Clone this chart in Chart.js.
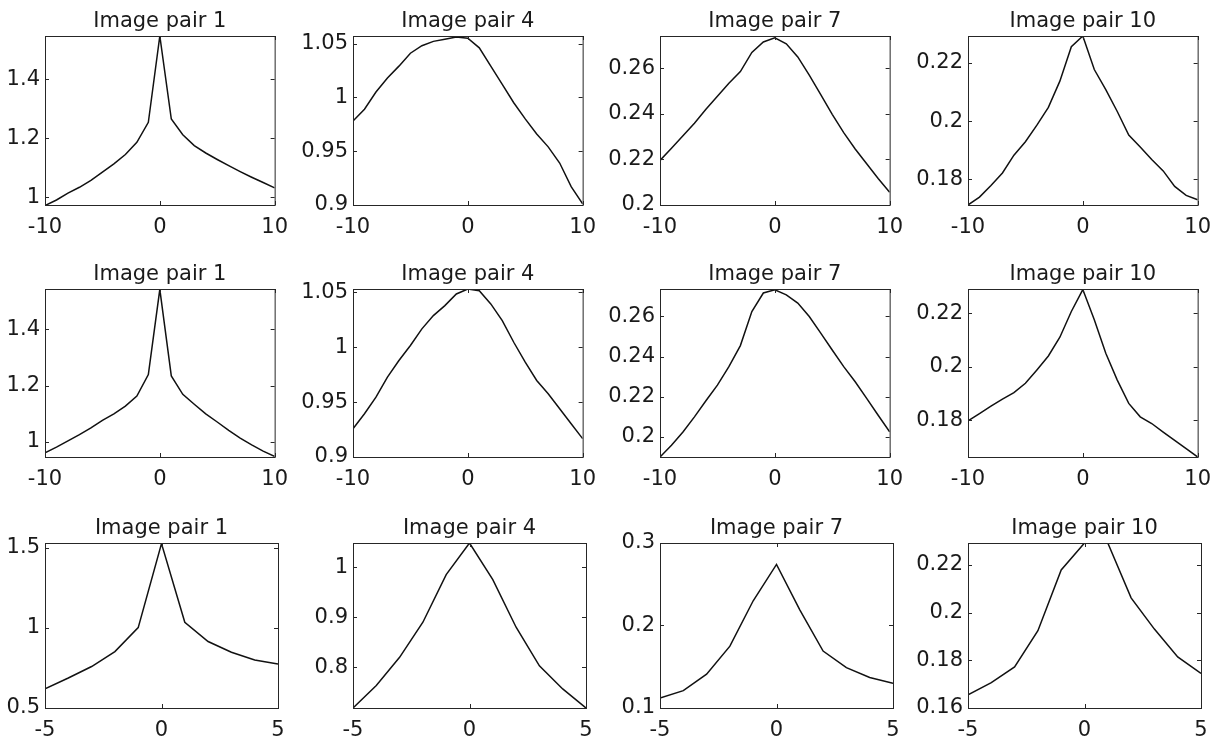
<!DOCTYPE html>
<html>
<head>
<meta charset="utf-8">
<script src="https://cdn.jsdelivr.net/npm/chart.js@4/dist/chart.umd.min.js"></script>
<style>
  html, body { margin: 0; padding: 0; background: #fff; overflow: hidden; }
  body { width: 1221px; height: 745px; position: relative; }
  .panel { position: absolute; }
</style>
</head>
<body>
<script>
// x positions (shift)
const xWide = [-10, -9, -8, -7, -6, -5, -4, -3, -2, -1, 0, 1, 2, 3, 4, 5, 6, 7, 8, 9, 10];
const xNarrow = [-5, -4, -3, -2, -1, 0, 1, 2, 3, 4, 5];
const xTicksWide = [-10, 0, 10];
const xTicksNarrow = [-5, 0, 5];

const titles = ['Image pair 1', 'Image pair 4', 'Image pair 7', 'Image pair 10'];

// row 1
const r1p1 = [0.972, 0.991, 1.014, 1.034, 1.057, 1.085, 1.113, 1.145, 1.186, 1.254, 1.546, 1.265, 1.212, 1.175, 1.150, 1.128, 1.107, 1.087, 1.068, 1.050, 1.032];
const r1p4 = [0.978, 0.989, 1.005, 1.018, 1.029, 1.041, 1.048, 1.052, 1.054, 1.056, 1.055, 1.046, 1.029, 1.012, 0.995, 0.980, 0.966, 0.954, 0.939, 0.917, 0.901];
const r1p7 = [0.2196, 0.2249, 0.2304, 0.2359, 0.2420, 0.2477, 0.2535, 0.2586, 0.2670, 0.2716, 0.2734, 0.2708, 0.2650, 0.2570, 0.2485, 0.2398, 0.2318, 0.2246, 0.2181, 0.2116, 0.2056];
const r1p10 = [0.1712, 0.1739, 0.1779, 0.1822, 0.1883, 0.1929, 0.1986, 0.2047, 0.2137, 0.2255, 0.2292, 0.2177, 0.2108, 0.2033, 0.1952, 0.1911, 0.1868, 0.1829, 0.1776, 0.1745, 0.1730];

// row 2
const r2p1 = [0.962, 0.982, 1.004, 1.026, 1.050, 1.077, 1.100, 1.127, 1.163, 1.239, 1.541, 1.234, 1.169, 1.134, 1.100, 1.071, 1.041, 1.014, 0.990, 0.968, 0.949];
const r2p4 = [0.9258, 0.9394, 0.9545, 0.9727, 0.9879, 1.0015, 1.0167, 1.0288, 1.0379, 1.0485, 1.0530, 1.0515, 1.0394, 1.0242, 1.0045, 0.9864, 0.9697, 0.9576, 0.9439, 0.9303, 0.9167];
const r2p7 = [0.1900, 0.1958, 0.2025, 0.2100, 0.2180, 0.2258, 0.2350, 0.2455, 0.2625, 0.2717, 0.2733, 0.2708, 0.2667, 0.2600, 0.2517, 0.2433, 0.2350, 0.2275, 0.2192, 0.2108, 0.2025];
const r2p10 = [0.1798, 0.1825, 0.1853, 0.1879, 0.1903, 0.1938, 0.1988, 0.2040, 0.2110, 0.2206, 0.2288, 0.2175, 0.2050, 0.1950, 0.1863, 0.1813, 0.1788, 0.1756, 0.1725, 0.1694, 0.1663];

// row 3
const r3p1 = [0.620, 0.687, 0.759, 0.852, 1.002, 1.526, 1.035, 0.915, 0.848, 0.800, 0.774];
const r3p4 = [0.719, 0.764, 0.820, 0.890, 0.985, 1.048, 0.975, 0.880, 0.803, 0.757, 0.719];
const r3p7 = [0.112, 0.121, 0.141, 0.175, 0.230, 0.274, 0.219, 0.169, 0.149, 0.137, 0.130];
const r3p10 = [0.1655, 0.1706, 0.1772, 0.1924, 0.2179, 0.2292, 0.2292, 0.2062, 0.1931, 0.1814, 0.1745];

// y limits and ticks, per panel
const yMin1 = [0.974, 0.9, 0.2, 0.1712];
const yMax1 = [1.546, 1.057, 0.2742, 0.2292];
const yMin2 = [0.947, 0.9, 0.19, 0.1663];
const yMax2 = [1.542, 1.053, 0.2737, 0.229];
const yMin3 = [0.5, 0.719, 0.1, 0.16];
const yMax3 = [1.53, 1.048, 0.3, 0.2292];

const yTicks1 = [[1, 1.2, 1.4], [0.9, 0.95, 1, 1.05], [0.2, 0.22, 0.24, 0.26], [0.18, 0.2, 0.22]];
const yTicks2 = [[1, 1.2, 1.4], [0.9, 0.95, 1, 1.05], [0.2, 0.22, 0.24, 0.26], [0.18, 0.2, 0.22]];
const yTicks3 = [[0.5, 1, 1.5], [0.8, 0.9, 1], [0.1, 0.2, 0.3], [0.16, 0.18, 0.2, 0.22]];

const rows = [
  { x: xWide, xt: xTicksWide, series: [r1p1, r1p4, r1p7, r1p10], lo: yMin1, hi: yMax1, yt: yTicks1 },
  { x: xWide, xt: xTicksWide, series: [r2p1, r2p4, r2p7, r2p10], lo: yMin2, hi: yMax2, yt: yTicks2 },
  { x: xNarrow, xt: xTicksNarrow, series: [r3p1, r3p4, r3p7, r3p10], lo: yMin3, hi: yMax3, yt: yTicks3 }
];

// layout of the plot boxes
const colLeft = [45, 353, 660, 968];
const rowTop = [36, 289, 543];
const rowHeight = [169, 168, 165];
const plotWidth = 233;
const yAxisW = 60;
const xAxisH = 34;
const titleH = 25;
const rightPad = 20;

Chart.defaults.font.family = '"DejaVu Sans", sans-serif';
Chart.defaults.font.size = 21;
Chart.defaults.color = '#1a1a1a';

// matlab style box with inward ticks
const boxPlugin = {
  id: 'matlabBox',
  afterDraw(chart) {
    const { ctx, chartArea: a, scales } = chart;
    const tl = 4;
    ctx.save();
    ctx.strokeStyle = '#262626';
    ctx.lineWidth = 1;
    ctx.strokeRect(a.left + 0.5, a.top + 0.5, a.right - a.left, a.bottom - a.top);
    ctx.beginPath();
    scales.x.ticks.forEach(t => {
      const px = Math.round(scales.x.getPixelForValue(t.value)) + 0.5;
      ctx.moveTo(px, a.bottom); ctx.lineTo(px, a.bottom - tl);
      ctx.moveTo(px, a.top); ctx.lineTo(px, a.top + tl);
    });
    scales.y.ticks.forEach(t => {
      const py = Math.round(scales.y.getPixelForValue(t.value)) + 0.5;
      ctx.moveTo(a.left, py); ctx.lineTo(a.left + tl, py);
      ctx.moveTo(a.right, py); ctx.lineTo(a.right - tl, py);
    });
    ctx.stroke();
    ctx.restore();
  }
};

rows.forEach((row, ri) => {
  row.series.forEach((vals, ci) => {
    const div = document.createElement('div');
    div.className = 'panel';
    div.style.left = (colLeft[ci] - yAxisW) + 'px';
    div.style.top = (rowTop[ri] - titleH) + 'px';
    div.style.width = (yAxisW + plotWidth + rightPad) + 'px';
    div.style.height = (titleH + rowHeight[ri] + xAxisH) + 'px';
    const canvas = document.createElement('canvas');
    div.appendChild(canvas);
    document.body.appendChild(div);

    new Chart(canvas, {
      type: 'line',
      data: {
        datasets: [{
          data: row.x.map((x, i) => ({ x: x, y: vals[i] })),
          borderColor: '#111',
          borderWidth: 1.5,
          pointRadius: 0,
          tension: 0,
          fill: false
        }]
      },
      options: {
        responsive: true,
        maintainAspectRatio: false,
        animation: false,
        events: [],
        layout: { padding: { top: 0, left: 0, right: rightPad, bottom: 0 } },
        plugins: {
          legend: { display: false },
          tooltip: { enabled: false },
          title: {
            display: true,
            fullSize: false,
            text: titles[ci],
            color: '#1a1a1a',
            font: { size: 21, weight: 'normal', lineHeight: 1 },
            padding: { top: 0, bottom: titleH - 21 }
          }
        },
        scales: {
          x: {
            type: 'linear',
            min: row.x[0],
            max: row.x[row.x.length - 1],
            grid: { display: false, drawTicks: false },
            border: { display: false },
            afterBuildTicks: s => { s.ticks = row.xt.map(v => ({ value: v })); },
            afterFit: s => { s.height = xAxisH; },
            ticks: { padding: 10, maxRotation: 0, autoSkip: false, callback: v => String(v) }
          },
          y: {
            type: 'linear',
            min: row.lo[ci],
            max: row.hi[ci],
            grid: { display: false, drawTicks: false },
            border: { display: false },
            afterBuildTicks: s => { s.ticks = row.yt[ci].map(v => ({ value: v })); },
            afterFit: s => { s.width = yAxisW; },
            ticks: { padding: 5, autoSkip: false, callback: v => String(v) }
          }
        }
      },
      plugins: [boxPlugin]
    });
  });
});
</script>
</body>
</html>
